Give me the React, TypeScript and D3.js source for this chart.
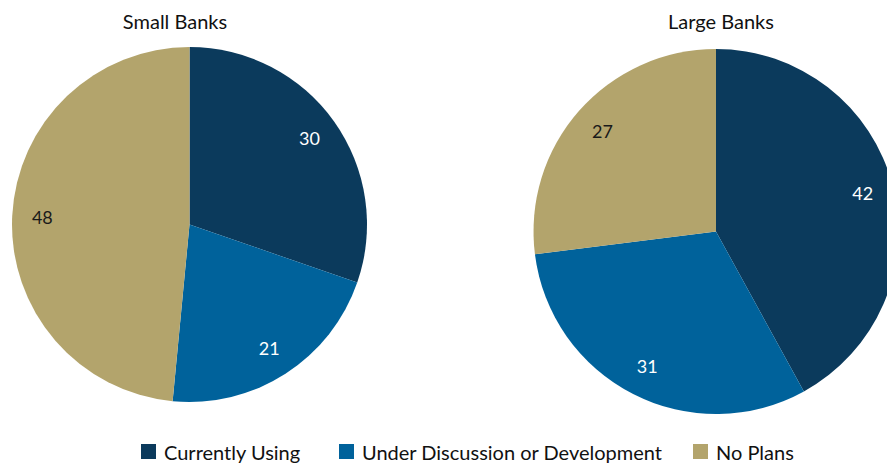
import React from "react";
import * as d3 from "d3";

const categories = ["Currently Using", "Under Discussion or Development", "No Plans"];
const smallBanks = [30, 21, 48];
const largeBanks = [42, 31, 27];
const titles = ["Small Banks", "Large Banks"];
const colors = ["#0b3a5c", "#00629b", "#b3a46c"];
const labelColors = ["#ffffff", "#ffffff", "#1a1a1a"];

const W = 887;
const H = 464;
const FONT = "Lato, 'Noto Sans', sans-serif";

const pies = [
  { title: titles[0], values: smallBanks, cx: 189.5, cy: 224.5, r: 177.5, tx: 175 },
  { title: titles[1], values: largeBanks, cx: 716, cy: 231.5, r: 182.5, tx: 721 },
];

const legendX = [141, 339, 693];

export default function App() {
  const pieGen = d3.pie<number>().sort(null).value((d) => d);
  return (
    <svg width={W} height={H} style={{ position: "absolute", left: 0, top: 0, fontFamily: FONT }}>
      <rect width={W} height={H} fill="#ffffff" />
      {pies.map((p, pi) => {
        const arcs = pieGen(p.values);
        const arcGen = d3.arc<d3.PieArcDatum<number>>().innerRadius(0).outerRadius(p.r);
        const lr = p.r * 0.83;
        const labelArc = d3.arc<d3.PieArcDatum<number>>().innerRadius(lr).outerRadius(lr);
        return (
          <g key={pi}>
            <text x={p.tx} y={29} textAnchor="middle" fontSize={20} fill="#111">
              {p.title}
            </text>
            <g transform={`translate(${p.cx},${p.cy})`}>
              {arcs.map((a, i) => (
                <path key={i} d={arcGen(a) || ""} fill={colors[i]} />
              ))}
              {arcs.map((a, i) => {
                const [x, y] = labelArc.centroid(a);
                return (
                  <text
                    key={"l" + i}
                    x={x}
                    y={y}
                    dy="0.35em"
                    textAnchor="middle"
                    fontSize={18}
                    fill={labelColors[i]}
                  >
                    {a.data}
                  </text>
                );
              })}
            </g>
          </g>
        );
      })}
      {categories.map((c, i) => (
        <g key={c} transform={`translate(${legendX[i]},0)`}>
          <rect x={0} y={444} width={15} height={15} fill={colors[i]} />
          <text x={23} y={460} fontSize={20} fill="#111">
            {c}
          </text>
        </g>
      ))}
    </svg>
  );
}
